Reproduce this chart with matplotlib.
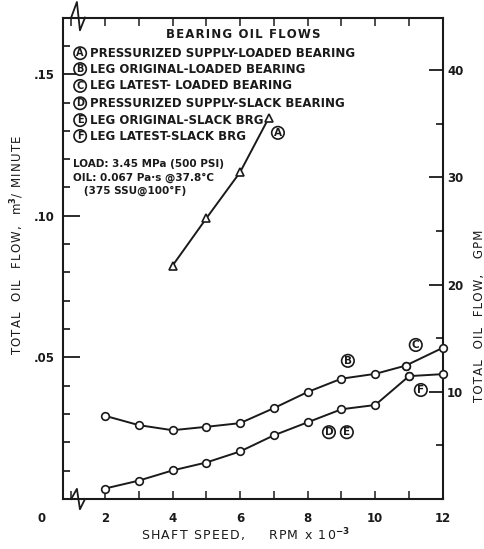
import numpy as np
import matplotlib
matplotlib.use("Agg")
import matplotlib.pyplot as plt
from matplotlib.ticker import MultipleLocator, FixedLocator

# ─── DATA (shaft speed in rpm x 1e-3, flow in m^3/min) ──────────────
a_speed = [4, 5, 6, 6.85]
a_flow = [0.0824, 0.0991, 0.1154, 0.1346]

b_speed = [2, 3, 4, 5, 6, 7, 8, 9, 10, 10.9]
b_flow = [0.0294, 0.0261, 0.0243, 0.0255, 0.0268, 0.0321, 0.0378, 0.0425, 0.0442, 0.0471]

c_speed = [10.9, 12]
c_flow = [0.0471, 0.0534]

de_speed = [2, 3, 4, 5, 6, 7, 8, 9, 10, 11]
de_flow = [0.0037, 0.0065, 0.0101, 0.0129, 0.0168, 0.0225, 0.0271, 0.0317, 0.0332, 0.0434]

f_speed = [11, 12]
f_flow = [0.0434, 0.0441]

legend_letters = ["A", "B", "C", "D", "E", "F"]
legend_texts = [
    "PRESSURIZED SUPPLY-LOADED BEARING",
    "LEG ORIGINAL-LOADED BEARING",
    "LEG LATEST- LOADED BEARING",
    "PRESSURIZED SUPPLY-SLACK BEARING",
    "LEG ORIGINAL-SLACK BRG",
    "LEG LATEST-SLACK BRG",
]
conditions = ["LOAD: 3.45 MPa (500 PSI)",
              "OIL: 0.067 Pa\u00b7s @37.8\u00b0C",
              "   (375 SSU@100\u00b0F)"]

M3MIN_TO_GPM = 264.17
INK = "#1a1a1a"

plt.rcParams["font.family"] = ["DejaVu Sans"]
plt.rcParams["font.weight"] = "bold"


def spaced(s):
    # open up the lettering a little with hair spaces
    return "\u200a".join(s)


fig = plt.figure(figsize=(4.85, 5.49), dpi=100)
ax = fig.add_axes([0.130, 0.091, 0.783, 0.877])

ax.set_xlim(0.76, 12)
ax.set_ylim(0, 0.17)

line_kw = dict(color=INK, lw=1.4, markersize=5.5, markerfacecolor="white",
               markeredgecolor=INK, markeredgewidth=1.2)
ax.plot(a_speed, a_flow, marker="^", **line_kw)
ax.plot(b_speed, b_flow, marker="o", **line_kw)
ax.plot(c_speed, c_flow, marker="o", clip_on=False, zorder=5, **line_kw)
ax.plot(de_speed, de_flow, marker="o", **line_kw)
ax.plot(f_speed, f_flow, marker="o", clip_on=False, zorder=5, **line_kw)


def circled(x, y, letter, size=7.5, transform=None):
    ax.text(x, y, letter, ha="center", va="center", fontsize=size,
            fontweight="bold", color=INK,
            transform=transform if transform is not None else ax.transData,
            bbox=dict(boxstyle="circle,pad=0.12", fc="white", ec=INK, lw=1.2))


# curve labels
circled(7.12, 0.1293, "A")
circled(9.19, 0.0488, "B")
circled(11.2, 0.0544, "C")
circled(8.63, 0.0236, "D")
circled(9.16, 0.0236, "E")
circled(11.35, 0.0385, "F")

# legend block in axes fraction
ax.text(0.475, 0.964, spaced("BEARING OIL FLOWS"), transform=ax.transAxes,
        ha="center", va="center", fontsize=8.5, color=INK)
row_y = [0.926, 0.893, 0.858, 0.822, 0.787, 0.754]
for y, letter, txt in zip(row_y, legend_letters, legend_texts):
    circled(0.045, y, letter, size=7, transform=ax.transAxes)
    ax.text(0.07, y, txt, transform=ax.transAxes, ha="left", va="center",
            fontsize=8.5, color=INK)
for y, txt in zip([0.696, 0.668, 0.640], conditions):
    ax.text(0.025, y, txt, transform=ax.transAxes, ha="left", va="center",
            fontsize=7.5, color=INK)

# left axis: m^3/min
ax.yaxis.set_major_locator(FixedLocator([0.05, 0.10, 0.15]))
ax.yaxis.set_minor_locator(MultipleLocator(0.01))
ax.set_yticklabels([".05", ".10", ".15"])
ax.tick_params(axis="y", which="major", direction="in", length=12, width=1.3,
               pad=6, labelsize=8.5, colors=INK)
ax.tick_params(axis="y", which="minor", direction="in", length=5, width=1.1)

# bottom / top axis: speed
ax.xaxis.set_major_locator(FixedLocator([2, 4, 6, 8, 10, 12]))
ax.xaxis.set_minor_locator(FixedLocator([1, 3, 5, 7, 9, 11]))
ax.tick_params(axis="x", which="both", direction="in", length=6, width=1.1,
               top=True, pad=9, labelsize=8.5, colors=INK)
ax.text(0.13, -0.0068, "0", ha="center", va="center", fontsize=8.5,
        color=INK, clip_on=False)

for side in ["left", "bottom", "top", "right"]:
    ax.spines[side].set_linewidth(1.5)
    ax.spines[side].set_color(INK)

# axis break marks on bottom and top spines
brk_x = [1.0, 1.17, 1.26, 1.41]
ax.plot(brk_x, [0, 0.0036, -0.0036, 0], color=INK, lw=1.3, clip_on=False)
ax.plot(brk_x, [0.17, 0.1755, 0.1655, 0.17], color=INK, lw=1.3,
        clip_on=False)

# right axis: gallons per minute
ax2 = ax.twinx()
ax2.set_ylim(0, 0.17 * M3MIN_TO_GPM)
ax2.yaxis.set_major_locator(FixedLocator([10, 20, 30, 40]))
ax2.yaxis.set_minor_locator(FixedLocator([5, 15, 25, 35]))
ax2.tick_params(axis="y", which="major", direction="in", length=10, width=1.3,
                pad=3, labelsize=8.5, colors=INK)
ax2.tick_params(axis="y", which="minor", direction="in", length=5, width=1.1)
for side in ["left", "bottom", "top", "right"]:
    ax2.spines[side].set_visible(False)

ax.set_xlabel(spaced("SHAFT SPEED,") + "      " + spaced("RPM x 10") + "$^{-3}$",
              fontsize=9, color=INK)
ax.xaxis.set_label_coords(0.479, -0.056)
ax.set_ylabel(spaced("TOTAL  OIL  FLOW,  m") + "$^3$" + spaced("/ MINUTE"),
              fontsize=8.5, color=INK)
ax.yaxis.set_label_coords(-0.097, 0.527)
ax2.set_ylabel(spaced("TOTAL  OIL  FLOW,   GPM"), fontsize=8.5, color=INK)
ax2.yaxis.set_label_coords(1.08, 0.38)

fig.savefig("out.png", dpi=100, facecolor="white")
